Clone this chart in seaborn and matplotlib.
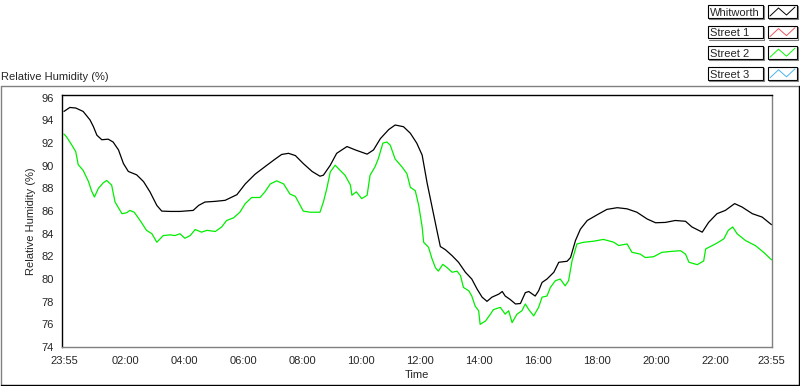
#!/usr/bin/env python3

# Import libraries
import pandas as pd
import matplotlib.pyplot as plt
from matplotlib.lines import Line2D
from matplotlib.patches import Rectangle
from matplotlib.ticker import FixedLocator
import seaborn as sns

W, H = 800, 386

# Data (clock time, relative humidity %)
whit_time = ["23:55", "00:07", "00:19", "00:34", "00:48", "00:55", "01:02", "01:12", "01:25", "01:35",
             "01:46", "01:56", "02:06", "02:23", "02:37", "02:50", "03:04", "03:14", "03:31", "03:51",
             "04:18", "04:29", "04:42", "05:03", "05:23", "05:47", "06:04", "06:24", "06:48", "07:05",
             "07:18", "07:32", "07:46", "08:02", "08:20", "08:36", "08:43", "08:57", "09:10", "09:31",
             "09:48", "10:12", "10:25", "10:39", "10:56", "11:09", "11:26", "11:40", "11:53", "12:04",
             "12:14", "12:24", "12:34", "12:41", "12:51", "13:05", "13:18", "13:32", "13:45", "13:56",
             "14:06", "14:16", "14:26", "14:40", "14:47", "14:53", "15:03", "15:14", "15:24", "15:34",
             "15:41", "15:54", "16:01", "16:08", "16:18", "16:32", "16:42", "16:59", "17:06", "17:16",
             "17:26", "17:40", "18:00", "18:20", "18:41", "19:01", "19:21", "19:42", "19:59", "20:19",
             "20:39", "21:00", "21:13", "21:34", "21:47", "22:04", "22:21", "22:40", "22:55", "23:16",
             "23:36", "23:55"]
whit_rh = [94.8, 95.15, 95.1, 94.8, 94.05, 93.45, 92.7, 92.3, 92.35, 92.1,
           91.4, 90.2, 89.5, 89.2, 88.6, 87.7, 86.5, 86.0, 85.97, 85.97,
           86.06, 86.5, 86.8, 86.86, 86.95, 87.45, 88.4, 89.26, 90.05, 90.6,
           91.0, 91.1, 90.9, 90.2, 89.5, 89.08, 89.17, 90.05, 91.1, 91.7,
           91.4, 91.03, 91.4, 92.4, 93.2, 93.6, 93.45, 92.87, 92.0, 90.94,
           88.5, 86.4, 84.3, 82.87, 82.6, 82.06, 81.48, 80.6, 80.0, 79.1,
           78.4, 78.03, 78.4, 78.67, 78.9, 78.5, 78.2, 77.8, 77.84, 78.8,
           78.9, 78.5, 78.96, 79.7, 80.0, 80.6, 81.48, 81.57, 81.9, 83.4,
           84.4, 85.17, 85.67, 86.15, 86.3, 86.2, 85.9, 85.3, 84.97, 85.0,
           85.17, 85.1, 84.6, 84.14, 85.0, 85.77, 86.06, 86.66, 86.36, 85.77,
           85.47, 84.8]

st2_time = ["23:55", "00:00", "00:11", "00:19", "00:24", "00:34", "00:45", "00:51", "00:57", "01:05",
            "01:15", "01:22", "01:32", "01:39", "01:53", "02:03", "02:09", "02:18", "02:30", "02:43",
            "02:54", "03:04", "03:17", "03:31", "03:41", "03:51", "04:01", "04:12", "04:22", "04:35",
            "04:46", "05:03", "05:16", "05:26", "05:40", "05:53", "06:04", "06:17", "06:34", "06:44",
            "06:55", "07:08", "07:22", "07:35", "07:46", "07:56", "08:02", "08:16", "08:36", "08:43",
            "08:50", "08:57", "09:07", "09:17", "09:27", "09:38", "09:41", "09:50", "10:01", "10:12",
            "10:18", "10:28", "10:35", "10:44", "10:52", "10:59", "11:09", "11:23", "11:33", "11:40",
            "11:50", "11:57", "12:04", "12:07", "12:17", "12:24", "12:31", "12:37", "12:46", "12:55",
            "13:05", "13:15", "13:22", "13:28", "13:39", "13:45", "13:52", "13:59", "14:02", "14:13",
            "14:23", "14:29", "14:43", "14:53", "15:00", "15:07", "15:17", "15:27", "15:34", "15:41",
            "15:51", "16:01", "16:08", "16:18", "16:25", "16:35", "16:45", "16:55", "17:02", "17:09",
            "17:19", "17:33", "17:53", "18:13", "18:34", "18:44", "19:01", "19:11", "19:28", "19:38",
            "19:55", "20:12", "20:33", "20:50", "21:00", "21:07", "21:24", "21:37", "21:41", "22:01",
            "22:18", "22:27", "22:36", "22:45", "23:02", "23:22", "23:39", "23:55"]
st2_rh = [92.8, 92.57, 91.83, 91.24, 90.1, 89.6, 88.6, 87.8, 87.24, 88.0,
          88.5, 88.7, 88.3, 86.8, 85.77, 85.86, 86.06, 85.9, 85.17, 84.3,
          84.0, 83.25, 83.84, 83.9, 83.84, 84.0, 83.6, 83.84, 84.37, 84.14,
          84.3, 84.2, 84.6, 85.17, 85.4, 85.9, 86.66, 87.2, 87.2, 87.7,
          88.4, 88.67, 88.4, 87.5, 87.3, 86.5, 86.0, 85.9, 85.9, 86.8,
          88.0, 89.46, 90.05, 89.6, 89.17, 88.3, 87.4, 87.7, 87.1, 87.4,
          89.17, 89.9, 90.65, 92.0, 92.1, 91.83, 90.6, 89.9, 89.3, 88.1,
          87.8, 86.5, 84.6, 83.25, 82.8, 81.8, 81.0, 80.7, 81.3, 81.0,
          80.6, 80.7, 80.3, 79.26, 78.96, 78.5, 77.6, 77.2, 76.0, 76.3,
          76.9, 77.3, 77.5, 76.9, 77.2, 76.15, 76.9, 77.2, 77.8, 77.3,
          76.75, 77.5, 78.4, 78.5, 79.26, 79.85, 80.0, 79.4, 79.85, 81.6,
          83.1, 83.25, 83.34, 83.5, 83.25, 82.96, 83.1, 82.36, 82.2, 81.9,
          81.97, 82.36, 82.45, 82.5, 82.2, 81.48, 81.27, 81.6, 82.66, 83.1,
          83.55, 84.3, 84.6, 84.0, 83.4, 82.96, 82.36, 81.7]

legend_names = ["Whitworth", "Street 1", "Street 2", "Street 3"]
legend_colors = ["#000000", "#e8585f", "#00ff00", "#4cb4f0"]

tick_minutes = [-5, 120, 240, 360, 480, 600, 720, 840, 960, 1080, 1200, 1320, 1435]
tick_labels = ["23:55", "02:00", "04:00", "06:00", "08:00", "10:00", "12:00",
               "14:00", "16:00", "18:00", "20:00", "22:00", "23:55"]


def to_minutes(times):
    ''' Clock strings to minutes after midnight; the leading 23:55 is the previous day. '''
    out = []
    for i, t in enumerate(times):
        h, m = t.split(":")
        v = int(h) * 60 + int(m)
        if i == 0 and v > 1400:
            v -= 1440
        out.append(v)
    return out


def px(x, y):
    ''' Pixel position to figure fraction. '''
    return x / W, 1 - y / H


def fig_line(fig, xs, ys, color, lw=0.8):
    fx = [x / W for x in xs]
    fy = [1 - y / H for y in ys]
    fig.add_artist(Line2D(fx, fy, color=color, lw=lw, transform=fig.transFigure))


def draw_legend(fig):
    for i, (name, col) in enumerate(zip(legend_names, legend_colors)):
        top = 5 + i * 20.6
        # name box
        fig.add_artist(Rectangle(px(708, top + 12.7), 54.5 / W, 12.7 / H, transform=fig.transFigure,
                                 facecolor="white", edgecolor="black", lw=0.8))
        fig_line(fig, [763.5, 763.5], [top + 1, top + 14], "#808080")
        fig_line(fig, [709, 763.5], [top + 14, top + 14], "#808080")
        fig.text(*px(710, top + 6.8), name, ha="left", va="center_baseline", fontsize=8)
        # sample box
        fig.add_artist(Rectangle(px(767.7, top + 12.7), 29 / W, 12.7 / H, transform=fig.transFigure,
                                 facecolor="white", edgecolor="black", lw=0.8))
        fig_line(fig, [797.5, 797.5], [top + 1, top + 14], "#808080")
        fig_line(fig, [768.5, 797.5], [top + 14, top + 14], "#808080")
        fig_line(fig, [770, 778.5, 786.5, 795], [top + 11, top + 3, top + 10, top + 2], col, lw=0.7)


def plot():
    sns.set_style("white")
    plt.rcParams["font.family"] = ["Liberation Sans", "DejaVu Sans"]
    plt.rcParams["font.size"] = 8

    df = pd.concat([
        pd.DataFrame({"Time": to_minutes(whit_time), "RH": whit_rh, "Station": "Whitworth"}),
        pd.DataFrame({"Time": to_minutes(st2_time), "RH": st2_rh, "Station": "Street 2"}),
    ])

    fig = plt.figure(figsize=(W / 100, H / 100), dpi=100)
    ax = fig.add_axes([62 / W, 1 - 347 / H, 710 / W, 252 / H])

    sns.lineplot(data=df, x="Time", y="RH", hue="Station", estimator=None, sort=True,
                 palette={"Whitworth": "#000000", "Street 2": "#00ee00"},
                 linewidth=0.9, legend=False, ax=ax)

    ax.set_xlim(-9, 1436)
    ax.set_ylim(74, 96.25)
    ax.set_yticks(range(74, 97, 2))
    ax.set_xticks(tick_minutes)
    ax.set_xticklabels(tick_labels)
    ax.xaxis.set_minor_locator(FixedLocator(list(range(0, 1440, 20))))

    ax.set_ylabel("Relative Humidity (%)", fontsize=8, labelpad=4)
    ax.set_xlabel("Time", fontsize=8, labelpad=3)
    ax.tick_params(axis="both", which="major", direction="out", length=4, width=0.8,
                   color="black", labelsize=8, pad=2)
    ax.tick_params(axis="x", which="minor", direction="out", length=2.2, width=0.8, color="black")
    ax.tick_params(axis="x", which="major", length=4.5)

    for side in ["left", "top"]:
        ax.spines[side].set_color("black")
        ax.spines[side].set_linewidth(1.0)
    for side in ["bottom", "right"]:
        ax.spines[side].set_color("#808080")
        ax.spines[side].set_linewidth(1.0)

    # outer sunken frame around the graph
    fig_line(fig, [0.5, 800], [86, 86], "#808080", lw=1.0)
    fig_line(fig, [1, 1], [86, 386], "#808080", lw=1.0)
    fig_line(fig, [1, 799.5], [385.3, 385.3], "black", lw=1.0)
    fig_line(fig, [799.3, 799.3], [86, 386], "black", lw=1.0)

    fig.text(*px(1, 77), "Relative Humidity (%)", ha="left", va="center", fontsize=8)
    draw_legend(fig)
    return fig


def main():
    fig = plot()
    fig.savefig("out.png", dpi=100)


if __name__ == '__main__':
    main()
